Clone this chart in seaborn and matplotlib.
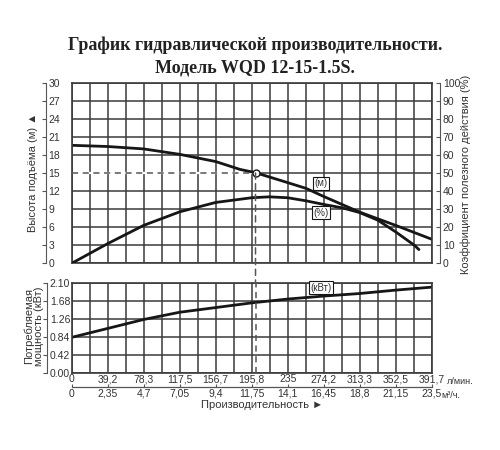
import numpy as np
import pandas as pd
import matplotlib
matplotlib.use("Agg")
import matplotlib.pyplot as plt
import seaborn as sns
from matplotlib.patches import ConnectionPatch

# ---- data ----
flow_ticks = [0, 39.17, 78.34, 117.51, 156.68, 195.85, 235.02, 274.19, 313.36, 352.53, 391.7]
flow_labels = ["0", "39,2", "78,3", "117,5", "156,7", "195,8", "235", "274,2", "313,3", "352,5", "391,7"]
m3h_ticks = [0, 2.35, 4.7, 7.05, 9.4, 11.75, 14.1, 16.45, 18.8, 21.15, 23.5]
m3h_labels = ["0", "2,35", "4,7", "7,05", "9,4", "11,75", "14,1", "16,45", "18,8", "21,15", "23,5"]

head_flow = [0, 39.2, 78.3, 117.5, 156.7, 183, 200, 235, 254.9, 274.2, 313.3, 352.5, 391.7]
head_m = [19.6, 19.4, 19.0, 18.1, 16.9, 15.6, 15.05, 13.4, 12.45, 11.1, 8.5, 6.3, 4.0]

eff_flow = [0, 39.2, 78.3, 117.5, 156.7, 195.8, 215, 235, 254.9, 274.2, 294.4, 313.3, 333, 352.5, 372.8, 377.8]
eff_pct = [0, 10.9, 21, 28.5, 33.7, 36.3, 36.8, 36.3, 34.6, 32.6, 30.7, 28.1, 23.9, 17.4, 10, 7.6]

power_flow = [0, 39.2, 78.3, 117.5, 156.7, 195.8, 235, 274.2, 313.3, 352.5, 391.7]
power_kw = [0.83, 1.04, 1.25, 1.42, 1.53, 1.64, 1.73, 1.80, 1.86, 1.94, 2.01]

duty_flow = 200
duty_head = 15

head_ticks = list(range(0, 31, 3))
eff_ticks = list(range(0, 101, 10))
power_ticks = [0.0, 0.42, 0.84, 1.26, 1.68, 2.10]
power_labels = ["0.00", "0.42", "0.84", "1.26", "1.68", "2.10"]

FLOW_MAX = 391.7

# ---- style ----
sns.set_theme(style="white")
plt.rcParams['font.family'] = ['Liberation Sans', 'DejaVu Sans']
TXT = '#333333'
LINE = '#161616'
GRID = '#3a3a3a'
DASH = '#555555'
DASHSTYLE = (0, (4, 3))

W, H = 500, 450
fig = plt.figure(figsize=(5, 4.5), dpi=100)
fig.patch.set_facecolor('white')


def rect(l, t, r, b):
    return [l / W, 1 - b / H, (r - l) / W, (b - t) / H]


ax_top = fig.add_axes(rect(71.7, 82.7, 431.7, 263.3))
ax_bot = fig.add_axes(rect(71.7, 283.3, 431.7, 372.7))

minor_x = [(flow_ticks[i] + flow_ticks[i + 1]) / 2 for i in range(len(flow_ticks) - 1)]

for ax in (ax_top, ax_bot):
    ax.set_xlim(0, FLOW_MAX)
    ax.set_xticks(flow_ticks)
    ax.set_xticks(minor_x, minor=True)
    ax.grid(True, which='both', color=GRID, lw=1.1)
    ax.set_axisbelow(True)
    for s in ax.spines.values():
        s.set_visible(True)
        s.set_color(GRID)
        s.set_linewidth(1.2)
    ax.tick_params(which='both', length=0)
    ax.set_facecolor('white')

# top panel
ax_top.set_ylim(0, 30)
ax_top.set_yticks(head_ticks)
ax_top.set_yticklabels([])
ax_top.set_xticklabels([])
for t in ax_top.xaxis.get_major_ticks(len(flow_ticks)) + ax_top.xaxis.get_minor_ticks(len(minor_x)):
    t.gridline.set_zorder(0.8)
sns.lineplot(x=head_flow, y=head_m, ax=ax_top, color=LINE, lw=2.0, sort=False)

ax_eff = ax_top.twinx()
ax_eff.set_ylim(0, 100)
ax_eff.set_yticks(eff_ticks)
for k in ('left', 'top', 'bottom'):
    ax_eff.spines[k].set_visible(False)
ax_eff.spines['right'].set_position(('outward', 6))
ax_eff.spines['right'].set_color('#555555')
ax_eff.spines['right'].set_linewidth(0.8)
ax_eff.tick_params(axis='y', direction='in', length=3, width=0.8, pad=2,
                   labelsize=7.5, colors='#555555', labelcolor=TXT)
ax_eff.grid(False)
sns.lineplot(x=eff_flow, y=eff_pct, ax=ax_eff, color=LINE, lw=2.0, sort=False)

# duty point: the dashed line replaces the grid line up to the duty point
ax_top.plot([0, duty_flow], [duty_head, duty_head], color='white', lw=1.6, zorder=0.6,
            solid_capstyle='butt')
ax_top.plot([0, duty_flow], [duty_head, duty_head], ls=DASHSTYLE, color=DASH, lw=1.1, zorder=3)
ax_top.plot([duty_flow], [duty_head], marker='o', ms=5, mfc='white', mec=LINE, mew=1.0, zorder=6)

# label boxes
box = dict(boxstyle='square,pad=0.15', fc='white', ec=LINE, lw=0.8)
ax_top.text(271, 13.3, '(м)', fontsize=7, ha='center', va='center', color=TXT, bbox=box, zorder=7)
ax_top.text(271, 8.4, '(%)', fontsize=7, ha='center', va='center', color=TXT, bbox=box, zorder=7)

# bottom panel
ax_bot.set_ylim(0, 2.10)
ax_bot.set_yticks(power_ticks)
ax_bot.set_yticklabels([])
ax_bot.set_xticklabels(flow_labels)
ax_bot.tick_params(axis='x', labelsize=7.5, labelcolor=TXT, pad=1.0)
sns.lineplot(x=power_flow, y=power_kw, ax=ax_bot, color=LINE, lw=2.0, sort=False)
ax_bot.text(271, 2.0, '(кВт)', fontsize=7, ha='center', va='center', color=TXT, bbox=box, zorder=7)
ax_bot.axvline(duty_flow, ls=DASHSTYLE, color=DASH, lw=1.1, zorder=3)

con = ConnectionPatch(xyA=(duty_flow, duty_head), coordsA=ax_top.transData,
                      xyB=(duty_flow, 2.10), coordsB=ax_bot.transData,
                      ls=DASHSTYLE, color=DASH, lw=1.1, zorder=3)
fig.add_artist(con)

sec = ax_bot.secondary_xaxis(-0.165, functions=(lambda x: np.asarray(x) * 0.06,
                                                lambda x: np.asarray(x) / 0.06))
sec.set_xticks(m3h_ticks)
sec.set_xticklabels(m3h_labels)
sec.spines['bottom'].set_color('#555555')
sec.spines['bottom'].set_linewidth(0.9)
sec.tick_params(axis='x', direction='in', length=2, width=0.8, pad=1.0,
                labelsize=7.5, colors='#555555', labelcolor=TXT)

# left-side value axes (spine detached to the left of the grid)
for (l, t, b, lim, ticks, labels) in [
        (45.0, 82.7, 263.3, (0, 30), head_ticks, [str(v) for v in head_ticks]),
        (46.5, 283.3, 372.7, (0, 2.10), power_ticks, power_labels)]:
    a = fig.add_axes(rect(l, t, l + 0.5, b))
    a.patch.set_visible(False)
    a.set_ylim(*lim)
    a.set_xticks([])
    a.yaxis.tick_right()
    a.set_yticks(ticks)
    a.set_yticklabels(labels)
    for k in ('left', 'top', 'bottom'):
        a.spines[k].set_visible(False)
    a.spines['right'].set_visible(True)
    a.spines['right'].set_color('#555555')
    a.spines['right'].set_linewidth(0.8)
    a.tick_params(axis='y', direction='in', length=3, width=0.8, pad=2,
                  labelsize=7.5, colors='#555555', labelcolor=TXT)
    a.grid(False)

# units and axis titles
fig.text(447 / W, 1 - 382 / H, 'л/мин.', fontsize=6.5, color=TXT, ha='left', va='center')
fig.text(441 / W, 1 - 395 / H, 'м³/ч.', fontsize=6.5, color=TXT, ha='left', va='center')
fig.text(262 / W, 1 - 405 / H, 'Производительность ►', fontsize=8, color=TXT, ha='center', va='center')
fig.text(33 / W, 1 - 172 / H, 'Высота подъёма (м) ▲', fontsize=8, color=TXT,
         rotation=90, ha='center', va='center')
fig.text(466 / W, 1 - 174 / H, 'Коэффициент полезного действия (%)', fontsize=8, color=TXT,
         rotation=90, ha='center', va='center')
fig.text(34 / W, 1 - 326 / H, 'Потребляемая\nмощность (кВт)', fontsize=8, color=TXT,
         rotation=90, ha='center', va='center', multialignment='center', linespacing=1.0)

# title
fig.text(255 / W, 1 - 45 / H, 'График гидравлической производительности.', fontsize=13,
         fontweight='bold', family=['Liberation Serif', 'DejaVu Serif'], color='#222222',
         ha='center', va='center')
fig.text(255 / W, 1 - 68 / H, 'Модель WQD 12-15-1.5S.', fontsize=13,
         fontweight='bold', family=['Liberation Serif', 'DejaVu Serif'], color='#222222',
         ha='center', va='center')

fig.savefig('out.png', dpi=100, facecolor='white')
